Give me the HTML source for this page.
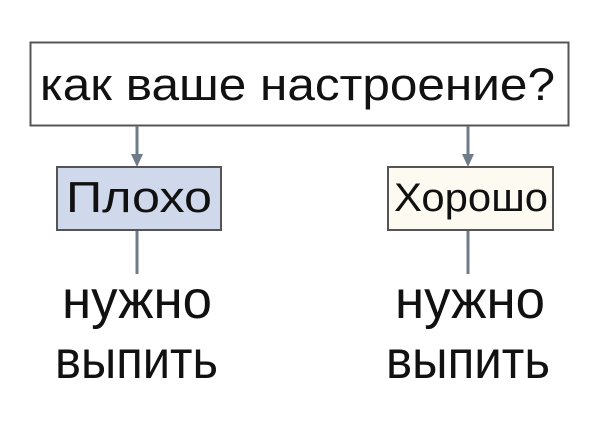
<!DOCTYPE html>
<html><head><meta charset="utf-8"><style>
html,body{margin:0;padding:0;background:#fff;}
svg{display:block;}
text{font-family:"Liberation Sans",Arial,sans-serif;fill:#111;}
</style></head><body>
<svg width="600" height="431" viewBox="0 0 600 431" xmlns="http://www.w3.org/2000/svg">
<rect x="30.5" y="42.5" width="538" height="83" fill="#fff" stroke="#555" stroke-width="2"/>
<text x="40" y="100" font-size="45" textLength="515" lengthAdjust="spacingAndGlyphs">как ваше настроение?</text>
<g stroke="#6f7b88" stroke-width="3">
<line x1="137" y1="126" x2="137" y2="158"/>
<line x1="468" y1="126" x2="468" y2="158"/>
<line x1="137" y1="231" x2="137" y2="274"/>
<line x1="468" y1="231" x2="468" y2="274"/>
</g>
<polygon points="131,154 143,154 137,167" fill="#6f7b88"/>
<polygon points="462,154 474,154 468,167" fill="#6f7b88"/>
<rect x="57" y="167" width="164" height="63" fill="#d0d9ec" stroke="#555" stroke-width="2"/>
<text x="66" y="212" font-size="44" textLength="146" lengthAdjust="spacingAndGlyphs">Плохо</text>
<rect x="388" y="167" width="165" height="63" fill="#fdfbf1" stroke="#555" stroke-width="2"/>
<text x="394" y="211" font-size="40" textLength="154" lengthAdjust="spacingAndGlyphs">Хорошо</text>
<text x="62" y="318" font-size="54" textLength="150" lengthAdjust="spacingAndGlyphs">нужно</text>
<text x="55" y="378" font-size="54" textLength="163" lengthAdjust="spacingAndGlyphs">выпить</text>
<text x="395" y="318" font-size="54" textLength="150" lengthAdjust="spacingAndGlyphs">нужно</text>
<text x="386" y="378" font-size="54" textLength="164" lengthAdjust="spacingAndGlyphs">выпить</text>
</svg>
</body></html>
